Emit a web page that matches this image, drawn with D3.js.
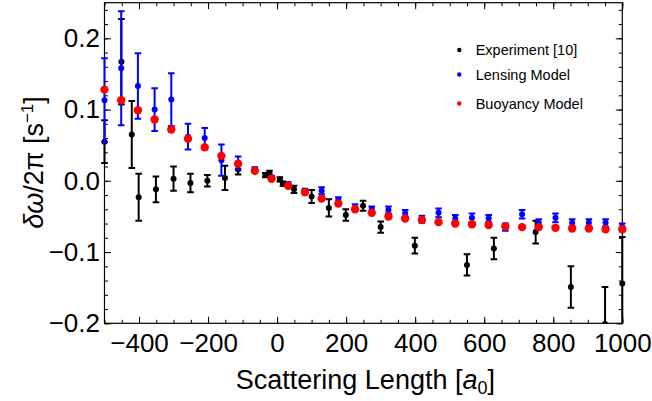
<!DOCTYPE html>
<html>
<head>
<meta charset="utf-8">
<script src="https://cdn.jsdelivr.net/npm/d3@7"></script>
<style>
  html, body { margin: 0; padding: 0; background: #fff; }
  svg { display: block; font-family: "Liberation Sans", Arial, sans-serif; }
</style>
</head>
<body>
<svg id="chart" width="652" height="401"></svg>
<script>
// ---- data ----
const expX = [-500, -451, -421, -401, -351, -300, -251, -202, -151, -113, -34, -22, 8, 17, 49, 100, 150, 199, 249, 300, 399, 550, 628, 749, 851, 950, 1000];
const expY = [0.055, 0.167, 0.065, -0.023, -0.012, 0.003, -0.003, 0.000, 0.004, 0.016, 0.008, 0.011, 0.002, -0.004, -0.012, -0.022, -0.038, -0.048, -0.035, -0.065, -0.091, -0.118, -0.095, -0.072, -0.149, -0.201, -0.144];
const expErr = [0.03, 0.06, 0.047, 0.033, 0.018, 0.017, 0.013, 0.008, 0.017, 0.007, 0.003, 0.003, 0.003, 0.003, 0.005, 0.009, 0.012, 0.008, 0.007, 0.008, 0.011, 0.015, 0.015, 0.016, 0.029, 0.052, 0.065];

const modelX = [-500, -451.6, -403.2, -354.8, -306.5, -258.1, -209.7, -161.3, -112.9, -64.5, -16.1, 32.3, 80.6, 129.0, 177.4, 225.8, 274.2, 322.6, 371.0, 419.4, 467.7, 516.1, 564.5, 612.9, 661.3, 709.7, 758.1, 806.5, 854.8, 903.2, 951.6, 1000];
const lensY = [0.113, 0.158, 0.133, 0.100, 0.114, 0.062, 0.060, 0.029, 0.025, 0.016, 0.004, -0.005, -0.014, -0.014, -0.027, -0.037, -0.040, -0.041, -0.046, -0.054, -0.045, -0.053, -0.052, -0.053, -0.065, -0.047, -0.059, -0.052, -0.059, -0.059, -0.059, -0.065];
const lensErr = [0.059, 0.08, 0.046, 0.030, 0.037, 0.018, 0.014, 0.022, 0.009, 0.003, 0.003, 0.003, 0.003, 0.005, 0.004, 0.004, 0.004, 0.005, 0.005, 0.005, 0.006, 0.005, 0.006, 0.005, 0.005, 0.006, 0.005, 0.006, 0.005, 0.005, 0.005, 0.005];
const buoyY = [0.128, 0.113, 0.099, 0.086, 0.072, 0.059, 0.047, 0.035, 0.024, 0.014, 0.003, -0.007, -0.016, -0.025, -0.032, -0.040, -0.045, -0.050, -0.053, -0.055, -0.058, -0.060, -0.061, -0.062, -0.064, -0.065, -0.065, -0.066, -0.067, -0.067, -0.068, -0.068];

const xMajorTicks = [-400, -200, 0, 200, 400, 600, 800, 1000];
const yMajorTicks = [-0.2, -0.1, 0.0, 0.1, 0.2];
const legendLabels = ["Experiment [10]", "Lensing Model", "Buoyancy Model"];

// ---- layout ----
const svg = d3.select("#chart");
const L = 104.5, R = 622.3, T = 2.7, B = 323.3;
const x = d3.scaleLinear().domain([-500, 1000]).range([L, R]);
const y = d3.scaleLinear().domain([-0.2, 0.25]).range([B, T]);
const xMinor = d3.range(-500, 1001, 50);
const yMinor = d3.range(-10, 13).map(i => i * 0.02);

svg.append("defs").append("clipPath").attr("id", "clip")
  .append("rect").attr("x", L - 12).attr("y", T).attr("width", R - L + 24).attr("height", B - T);

const fmtX = d3.format("d");
const fmtY = d3.format(".1f");

function styleAxis(g) {
  g.select(".domain").remove();
  g.selectAll("line").attr("stroke", "#000").attr("stroke-width", 1);
}

// bottom
svg.append("g").attr("transform", `translate(0,${B})`)
  .call(d3.axisBottom(x).tickValues(xMinor).tickSizeInner(-3.5).tickSizeOuter(0).tickFormat(""))
  .call(styleAxis);
svg.append("g").attr("transform", `translate(0,${B})`)
  .call(d3.axisBottom(x).tickValues(xMajorTicks).tickSizeInner(-6.5).tickSizeOuter(0).tickPadding(10).tickFormat(fmtX))
  .call(styleAxis)
  .call(g => g.selectAll("text").attr("font-size", 26).attr("fill", "#000").attr("font-family", "Liberation Sans, Arial, sans-serif"));
// top
svg.append("g").attr("transform", `translate(0,${T})`)
  .call(d3.axisTop(x).tickValues(xMinor).tickSizeInner(-3.5).tickSizeOuter(0).tickFormat(""))
  .call(styleAxis);
svg.append("g").attr("transform", `translate(0,${T})`)
  .call(d3.axisTop(x).tickValues(xMajorTicks).tickSizeInner(-6.5).tickSizeOuter(0).tickFormat(""))
  .call(styleAxis);
// left
svg.append("g").attr("transform", `translate(${L},0)`)
  .call(d3.axisLeft(y).tickValues(yMinor).tickSizeInner(-3.5).tickSizeOuter(0).tickFormat(""))
  .call(styleAxis);
svg.append("g").attr("transform", `translate(${L},0)`)
  .call(d3.axisLeft(y).tickValues(yMajorTicks).tickSizeInner(-6.5).tickSizeOuter(0).tickPadding(4.5).tickFormat(fmtY))
  .call(styleAxis)
  .call(g => g.selectAll("text").attr("font-size", 26).attr("fill", "#000").attr("font-family", "Liberation Sans, Arial, sans-serif"));
// right
svg.append("g").attr("transform", `translate(${R},0)`)
  .call(d3.axisRight(y).tickValues(yMinor).tickSizeInner(-3.5).tickSizeOuter(0).tickFormat(""))
  .call(styleAxis);
svg.append("g").attr("transform", `translate(${R},0)`)
  .call(d3.axisRight(y).tickValues(yMajorTicks).tickSizeInner(-6.5).tickSizeOuter(0).tickFormat(""))
  .call(styleAxis);

// frame
svg.append("rect").attr("x", L).attr("y", T).attr("width", R - L).attr("height", B - T)
  .attr("fill", "none").attr("stroke", "#000").attr("stroke-width", 1.2);

// ---- data marks ----
const plot = svg.append("g").attr("clip-path", "url(#clip)");

function drawSeries(xs, ys, errs, color, r) {
  const data = xs.map((xv, i) => ({ x: xv, y: ys[i], e: errs ? errs[i] : 0 }));
  const g = plot.append("g");
  if (errs) {
    const eb = g.selectAll("g.eb").data(data).join("g").attr("class", "eb")
      .attr("stroke", color).attr("stroke-width", 2);
    eb.append("line").attr("x1", d => x(d.x)).attr("x2", d => x(d.x))
      .attr("y1", d => y(d.y + d.e)).attr("y2", d => y(d.y - d.e));
    eb.append("line").attr("x1", d => x(d.x) - 3.3).attr("x2", d => x(d.x) + 3.3)
      .attr("y1", d => y(d.y + d.e)).attr("y2", d => y(d.y + d.e));
    eb.append("line").attr("x1", d => x(d.x) - 3.3).attr("x2", d => x(d.x) + 3.3)
      .attr("y1", d => y(d.y - d.e)).attr("y2", d => y(d.y - d.e));
  }
  g.selectAll("circle").data(data).join("circle")
    .attr("cx", d => x(d.x)).attr("cy", d => y(d.y)).attr("r", r).attr("fill", color);
}

drawSeries(expX, expY, expErr, "#000000", 3);
drawSeries(modelX, lensY, lensErr, "#0000ff", 3);
drawSeries(modelX, buoyY, null, "#ff0000", 4.2);

// ---- legend ----
const legColors = ["#000000", "#0000ff", "#ff0000"];
const legY = [50, 74.5, 103.5];
const leg = svg.append("g");
legendLabels.forEach((t, i) => {
  leg.append("circle").attr("cx", 459.3).attr("cy", legY[i]).attr("r", 2.2).attr("fill", legColors[i]);
  leg.append("text").attr("x", 475.7).attr("y", legY[i]).attr("dy", "0.35em")
    .attr("font-size", 14.5).attr("fill", "#000").text(t);
});

// ---- axis titles ----
const xt = svg.append("text").attr("x", (L + R) / 2 + 2).attr("y", 388.5)
  .attr("text-anchor", "middle").attr("font-size", 27).attr("fill", "#000");
xt.append("tspan").text("Scattering Length [");
xt.append("tspan").attr("font-style", "italic").text("a");
xt.append("tspan").attr("font-size", 18).attr("dy", 5).text("0");
xt.append("tspan").attr("dy", -5).text("]");

const yt = svg.append("text").attr("transform", `translate(42.5,162.5) rotate(-90)`)
  .attr("text-anchor", "middle").attr("font-size", 27).attr("fill", "#000");
yt.append("tspan").attr("font-style", "italic").text("δω");
yt.append("tspan").text("/2π [s");
yt.append("tspan").attr("font-size", 17).attr("dy", -10).text("−1");
yt.append("tspan").attr("dy", 10).text("]");
</script>
</body>
</html>
